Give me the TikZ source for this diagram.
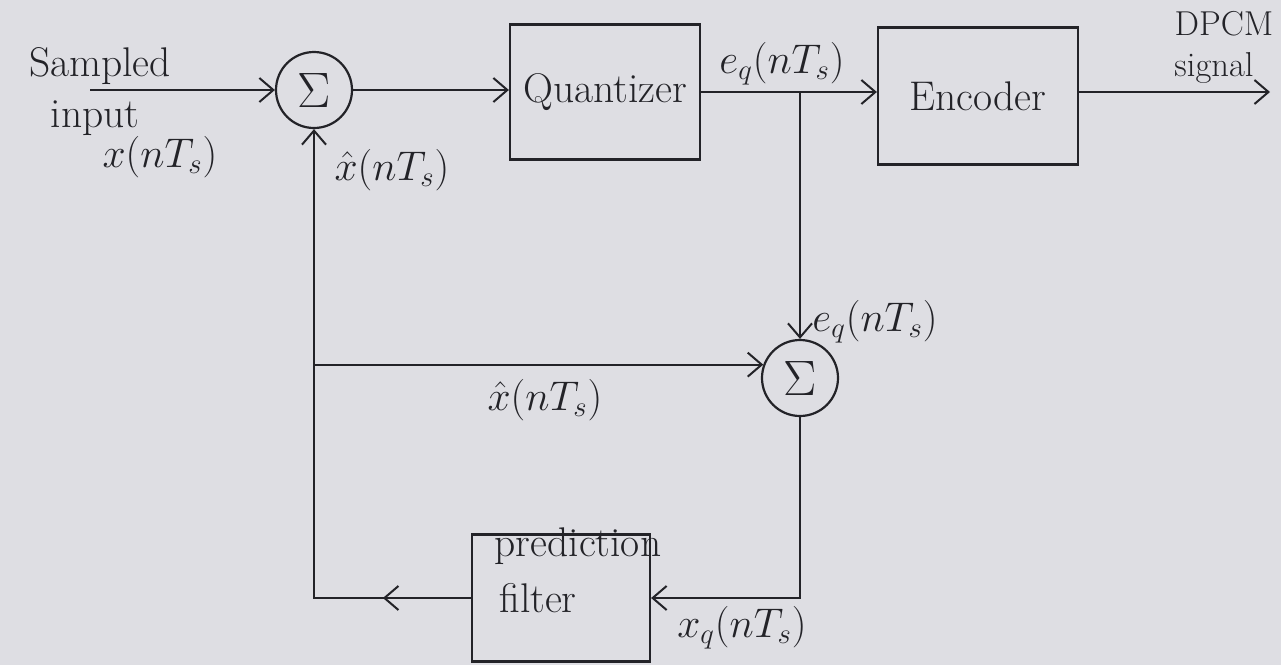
\documentclass[tikz,border=0pt]{standalone}
\usetikzlibrary{arrows.meta}
\definecolor{paper}{RGB}{222,222,227}
\definecolor{ink}{RGB}{35,35,40}
\begin{document}
\begin{tikzpicture}[x=0.5pt,y=-0.5pt,
  >={Straight Barb[length=7pt,width=12pt,line width=1pt]},
  every node/.style={text=ink,font=\huge},
  line/.style={draw=ink,line width=1.1pt},
  blk/.style={draw=ink,line width=1.1pt,inner sep=0pt},
  summ/.style={draw=ink,line width=1.1pt,circle,minimum size=38pt,inner sep=0pt,font=\Huge},
  lbl/.style={inner sep=1pt},
  small/.style={inner sep=1pt,font=\LARGE}]
\fill[paper] (0,0) rectangle (1281,665);
\useasboundingbox (0,0) rectangle (1281,665);

% blocks
\node[summ] (sum1) at (314,90) {$\Sigma$};
\node[blk,minimum width=95pt,minimum height=67.5pt] (quant) at (605,92) {Quantizer};
\node[blk,minimum width=100pt,minimum height=68.5pt] (enc) at (978,96) {Encoder};
\node[summ] (sum2) at (800,378) {$\Sigma$};
\node[blk,minimum width=89pt,minimum height=63.5pt] (filt) at (561,598) {};
\node[lbl] (tpred) at (578,546) {prediction};
\node[lbl] (tfilt) at (538,598) {filter};

% coordinates
\coordinate (in) at (90,90);
\coordinate (out) at (1270,92);
\coordinate (br) at (800,92);
\coordinate (tap) at (sum1.south |- sum2.160);

% connectors
\draw[line,->] (in) -- (sum1.west);
\draw[line,->] (sum1.east) -- (sum1.east -| quant.west);
\draw[line,->] (quant.east) -- (quant.east -| enc.west);
\draw[line,->] (enc.east |- out) -- (out);
\draw[line,->] (br) -- (sum2.north);
\draw[line,->] (sum2.south) |- (filt.east);
\draw[line,->] (filt.west) -| (sum1.south);
\draw[line,->] (filt.west) -- ++(-88,0);
\draw[line,->] (tap) -- (sum2.160);

% labels
\node[lbl] (ls1) at (100,66) {Sampled};
\node[lbl] (ls2) at (95,118) {input};
\node[lbl] (ls3) at (160,157) {$x(nT_s)$};
\node[lbl] (lxh1) at (392,170) {$\hat{x}(nT_s)$};
\node[lbl] (leq1) at (782,64) {$e_q(nT_s)$};
\node[small] (ldp) at (1224,24) {DPCM};
\node[small] (lsig) at (1214,68) {signal};
\node[lbl] (leq2) at (875,322) {$e_q(nT_s)$};
\node[lbl] (lxh2) at (545,400) {$\hat{x}(nT_s)$};
\node[lbl] (lxq) at (742,628) {$x_q(nT_s)$};
\end{tikzpicture}
\end{document}
